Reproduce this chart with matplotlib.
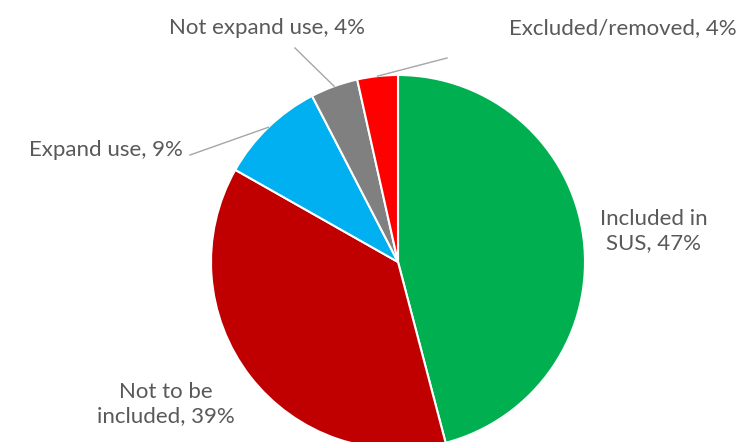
import numpy as np
import matplotlib.pyplot as plt

# slice shares (clockwise from 12 o'clock)
categories = ["Included in\nSUS", "Not to be\nincluded", "Expand use", "Not expand use", "Excluded/removed"]
values = [45.9, 37.3, 9.2, 4.1, 3.5]
pct_labels = ["47%", "39%", "9%", "4%", "4%"]
colors = ["#00B050", "#C00000", "#00B0F0", "#808080", "#FF0000"]

W, H = 742, 442
cx, cy, r = 398, 262, 187   # pie centre / radius in pixels

fig = plt.figure(figsize=(W / 100, H / 100), dpi=100)
ax = fig.add_axes([(cx - r) / W, (H - cy - r) / H, 2 * r / W, 2 * r / H])

wedges, _ = ax.pie(values, colors=colors, startangle=90, counterclock=False,
                   wedgeprops=dict(edgecolor="white", linewidth=1.5))
ax.set_xlim(-1, 1)
ax.set_ylim(-1, 1)
ax.set_aspect("equal")
ax.axis("off")


def px(x, y):
    # image pixel -> data coords
    return (x - cx) / r, (cy - y) / r


txt = dict(color="#595959", fontsize=16, family=["Lato", "DejaVu Sans"], linespacing=1.2)
lc = "#A6A6A6"

# label placement: (anchor pixel, ha, leader start pixel or None)
place = [
    ((654, 231), "center", None),
    ((166, 404), "center", None),
    ((106, 150), "center", (190, 155)),
    ((267, 28), "center", (295, 48)),
    ((623, 28), "center", (447, 58)),
]

for w, cat, p, (pos, ha, lead) in zip(wedges, categories, pct_labels, place):
    x, y = px(*pos)
    ax.text(x, y, f"{cat}, {p}", ha=ha, va="center", clip_on=False, **txt)
    if lead is not None:
        mid = np.deg2rad((w.theta1 + w.theta2) / 2)
        lx, ly = px(*lead)
        ax.plot([lx, np.cos(mid)], [ly, np.sin(mid)], color=lc, lw=1, clip_on=False)

fig.savefig("out.png", dpi=100)
